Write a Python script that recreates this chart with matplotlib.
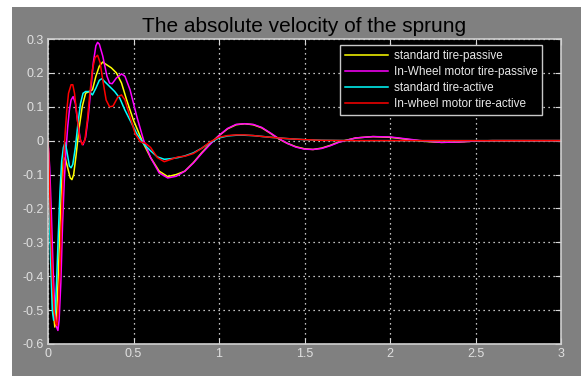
import matplotlib
matplotlib.use('Agg')
import matplotlib.pyplot as plt
from matplotlib.patches import Rectangle

# standard tire - passive (yellow)
t_sp = [0, 0.01, 0.02, 0.03, 0.04, 0.05, 0.06, 0.07, 0.08, 0.09, 0.10, 0.115, 0.13, 0.14,
        0.15, 0.165, 0.18, 0.2, 0.22, 0.24, 0.26, 0.28, 0.3, 0.32, 0.34, 0.37, 0.4, 0.43,
        0.46, 0.5, 0.55, 0.6, 0.65, 0.7, 0.75, 0.8, 0.85, 0.9, 0.95, 1.0, 1.05, 1.1, 1.15,
        1.2, 1.25, 1.3, 1.35, 1.4, 1.45, 1.5, 1.55, 1.6, 1.65, 1.7, 1.8, 1.9, 2.0, 2.1,
        2.2, 2.3, 2.4, 2.5, 2.6, 3.0]
v_sp = [0.0, -0.15, -0.35, -0.50, -0.55, -0.52, -0.40, -0.25, -0.12, -0.06, -0.05, -0.08,
        -0.11, -0.115, -0.10, -0.04, 0.03, 0.10, 0.14, 0.145, 0.15, 0.19, 0.22, 0.232,
        0.225, 0.215, 0.20, 0.17, 0.12, 0.06, 0.0, -0.05, -0.09, -0.106, -0.10, -0.09,
        -0.065, -0.035, -0.008, 0.015, 0.035, 0.047, 0.05, 0.047, 0.038, 0.022, 0.005,
        -0.008, -0.018, -0.024, -0.026, -0.022, -0.014, -0.004, 0.008, 0.012, 0.01,
        0.004, -0.002, -0.005, -0.004, -0.001, 0.0, 0.0]

# in-wheel motor tire - passive (magenta)
t_ip = [0, 0.01, 0.02, 0.03, 0.04, 0.05, 0.058, 0.065, 0.075, 0.085, 0.095, 0.105, 0.115,
        0.125, 0.135, 0.147, 0.16, 0.175, 0.19, 0.205, 0.22, 0.235, 0.25, 0.265, 0.28,
        0.29, 0.3, 0.32, 0.345, 0.36, 0.375, 0.4, 0.43, 0.45, 0.48, 0.52, 0.56, 0.6,
        0.65, 0.7, 0.75, 0.8, 0.85, 0.9, 0.95, 1.0, 1.05, 1.1, 1.15, 1.2, 1.25, 1.3,
        1.35, 1.4, 1.45, 1.5, 1.55, 1.6, 1.65, 1.7, 1.8, 1.9, 2.0, 2.1, 2.2, 2.3, 2.4,
        2.5, 2.6, 3.0]
v_ip = [0.0, -0.08, -0.22, -0.38, -0.50, -0.55, -0.56, -0.53, -0.42, -0.25, -0.12, -0.03,
        0.04, 0.09, 0.12, 0.13, 0.11, 0.05, 0.0, -0.012, 0.01, 0.07, 0.15, 0.23, 0.28,
        0.29, 0.285, 0.25, 0.19, 0.17, 0.168, 0.185, 0.197, 0.19, 0.15, 0.07, 0.0,
        -0.05, -0.095, -0.11, -0.105, -0.09, -0.066, -0.037, -0.01, 0.015, 0.036, 0.048,
        0.05, 0.048, 0.039, 0.023, 0.006, -0.008, -0.019, -0.025, -0.026, -0.023,
        -0.015, -0.005, 0.008, 0.012, 0.011, 0.005, -0.001, -0.005, -0.004, -0.001,
        0.0, 0.0]

# standard tire - active (cyan)
t_sa = [0, 0.005, 0.015, 0.025, 0.033, 0.042, 0.05, 0.06, 0.07, 0.08, 0.09, 0.1, 0.11,
        0.125, 0.135, 0.145, 0.16, 0.175, 0.19, 0.205, 0.22, 0.24, 0.26, 0.28, 0.3,
        0.315, 0.33, 0.36, 0.39, 0.42, 0.45, 0.48, 0.52, 0.56, 0.6, 0.64, 0.68, 0.72,
        0.76, 0.8, 0.85, 0.9, 0.95, 1.0, 1.05, 1.1, 1.15, 1.2, 1.3, 1.4, 1.5, 1.6, 1.8,
        3.0]
v_sa = [0.0, -0.1, -0.35, -0.50, -0.53, -0.51, -0.42, -0.28, -0.15, -0.06, -0.02, -0.005,
        -0.03, -0.075, -0.08, -0.07, -0.02, 0.05, 0.11, 0.14, 0.145, 0.145, 0.135,
        0.155, 0.178, 0.183, 0.175, 0.16, 0.145, 0.125, 0.09, 0.06, 0.02, -0.01, -0.03,
        -0.048, -0.055, -0.053, -0.05, -0.045, -0.036, -0.022, -0.005, 0.008, 0.014,
        0.016, 0.016, 0.015, 0.01, 0.006, 0.003, 0.001, 0.0, 0.0]

# in-wheel motor tire - active (red)
t_ia = [0, 0.005, 0.015, 0.025, 0.035, 0.045, 0.052, 0.06, 0.07, 0.08, 0.09, 0.10, 0.11,
        0.12, 0.135, 0.145, 0.155, 0.17, 0.185, 0.2, 0.215, 0.23, 0.245, 0.26, 0.275,
        0.29, 0.305, 0.32, 0.34, 0.36, 0.38, 0.41, 0.43, 0.45, 0.48, 0.51, 0.54, 0.57,
        0.6, 0.64, 0.68, 0.72, 0.76, 0.8, 0.85, 0.9, 0.95, 1.0, 1.05, 1.1, 1.15, 1.2,
        1.3, 1.4, 1.5, 1.6, 1.8, 3.0]
v_ia = [0.0, -0.05, -0.25, -0.40, -0.50, -0.54, -0.545, -0.50, -0.38, -0.22, -0.08, 0.02,
        0.09, 0.14, 0.165, 0.165, 0.14, 0.07, 0.01, -0.012, 0.0, 0.06, 0.14, 0.21,
        0.245, 0.252, 0.23, 0.18, 0.12, 0.10, 0.102, 0.13, 0.135, 0.12, 0.07, 0.02,
        -0.003, -0.008, -0.02, -0.05, -0.062, -0.055, -0.048, -0.046, -0.038, -0.022,
        -0.003, 0.01, 0.015, 0.017, 0.017, 0.015, 0.01, 0.006, 0.003, 0.001, 0.0, 0.0]

labels = ['standard tire-passive', 'In-Wheel motor tire-passive',
          'standard tire-active', 'In-wheel motor tire-active']
colors = ['#ffff00', '#ff00ff', '#00ffff', '#ff0000']

x_ticks = [0, 0.5, 1, 1.5, 2, 2.5, 3]
x_ticklabels = ['0', '0.5', '1', '1.5', '2', '2.5', '3']
y_ticks = [-0.6, -0.5, -0.4, -0.3, -0.2, -0.1, 0, 0.1, 0.2, 0.3]
y_ticklabels = ['-0.6', '-0.5', '-0.4', '-0.3', '-0.2', '-0.1', '0', '0.1', '0.2', '0.3']

plt.rcParams['font.family'] = ['Liberation Sans', 'DejaVu Sans']

fig = plt.figure(figsize=(5.81, 3.76), dpi=100, facecolor='white')
# grey window area (white strip left and top)
fig.patches.append(Rectangle((12 / 581, 0), 1, 1 - 7 / 376, transform=fig.transFigure,
                             facecolor='#808080', edgecolor='none', zorder=-1))

ax = fig.add_axes([48 / 581, 32 / 376, 513 / 581, 305 / 376])
ax.set_facecolor('black')

series = [(t_sp, v_sp), (t_ip, v_ip), (t_sa, v_sa), (t_ia, v_ia)]
for (t, v), c, lab in zip(series, colors, labels):
    ax.plot(t, v, color=c, lw=1.1, label=lab)

ax.set_xlim(0, 3)
ax.set_ylim(-0.6, 0.3)
ax.set_xticks(x_ticks)
ax.set_xticklabels(x_ticklabels)
ax.set_yticks(y_ticks)
ax.set_yticklabels(y_ticklabels)
ax.tick_params(direction='in', colors='#d8d8d8', labelcolor='#e0e0e0', labelsize=9,
               length=4, top=True, right=True, pad=3)
for s in ax.spines.values():
    s.set_color('#d0d0d0')
    s.set_linewidth(1.2)
ax.grid(True, color='white', linestyle=(0, (1, 3)), linewidth=0.9)

ax.set_title('The absolute velocity of the sprung', fontsize=15, color='black', pad=5)

leg = ax.legend(loc='upper right', bbox_to_anchor=(0.963, 0.980), borderaxespad=0,
                fontsize=8.5, handlelength=3.6, frameon=True, fancybox=False,
                labelspacing=0.35, borderpad=0.4, handletextpad=0.5)
leg.get_frame().set_facecolor('black')
leg.get_frame().set_edgecolor('#c8c8c8')
leg.get_frame().set_alpha(1)
for txt in leg.get_texts():
    txt.set_color('#e8e8e8')

fig.savefig('out.png', dpi=100, facecolor=fig.get_facecolor())
